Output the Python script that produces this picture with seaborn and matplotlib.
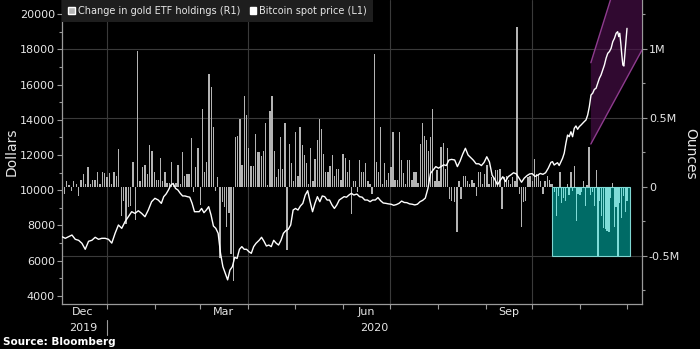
import numpy as np
import pandas as pd
import matplotlib
matplotlib.use("Agg")
import matplotlib.pyplot as plt
import matplotlib.dates as mdates
import matplotlib.transforms as mtransforms
from matplotlib.patches import Rectangle, Polygon, Patch
import seaborn as sns

# ---------------------------------------------------------------------------
# Bitcoin spot price, USD (left axis), read in segments of roughly even spacing
# ---------------------------------------------------------------------------
btc_dec_feb = [7354, 7263, 7354, 7450, 7206, 7150, 6979, 6638, 7093, 7150,
               7320, 7206, 7263, 7263, 7206, 6990, 7547, 8020, 7830, 8210,
               8490, 8775, 8680, 8830, 8680, 8490, 8870, 9344, 9537, 9440]
btc_feb_apr = [9250, 9630, 9780, 10010, 10290, 10380, 10100, 10010, 9820, 9670,
               9670, 9630, 9600, 9250, 8775, 8775, 8775, 8960, 8720, 8870,
               9060, 8585, 7960, 7830, 7547, 6410, 5650, 5270, 4900, 5460,
               5650, 6180, 6120, 6638, 6790, 6638, 6638, 6500, 6410, 6790, 6980]
btc_apr_jun = [7150, 7320, 7093, 6825, 6880, 6790, 7150, 6990, 6880, 7150,
               7547, 7700, 7775, 8020, 8870, 8960, 8870, 9100, 9250, 9725,
               9970, 9344, 8775, 9250, 9630, 9344, 9670, 9630, 9440, 9440,
               9160, 8960, 9160, 9440, 9537, 9630, 9600, 9725, 9820, 9725]
btc_jun_aug = [9780, 9630, 9600, 9440, 9440, 9344, 9440, 9440, 9580, 9400,
               9270, 9250, 9220, 9200, 9140, 9180, 9250, 9380, 9300, 9290,
               9220, 9200, 9160, 9200, 9344, 9420, 9550, 10100, 10960, 11150,
               11340, 11250, 11340, 11440, 11400, 11715, 11750]
btc_aug_oct = [11715, 11340, 11650, 12050, 12380, 12000, 11850, 11700, 11500, 11500,
               11400, 11580, 11900, 11600, 10850, 10620, 10300, 10550, 10765, 10490,
               10765, 10870, 10990, 10930, 10700, 10450, 10680, 10820, 10920, 10940,
               10780, 10850, 10950, 10900, 10990, 11250, 11580]
btc_oct_nov = [11620, 11430, 11500, 11560, 11400, 11600, 11810, 12100, 12665, 13135,
               13040, 13320, 13040, 13517, 13650, 13460, 13610, 13700, 13800, 13900,
               13990, 14270, 14745, 15410, 15510, 15730, 15790, 16075, 16360, 16550,
               16830, 17115, 17500, 17780, 17880, 18065, 18440, 18630, 18920]
btc_late_nov = [19010, 18730, 18920, 18350, 17680, 17115, 17060, 17780, 18540, 19200]

btc_segments = [
    ("2019-12-03", "2020-02-03", btc_dec_feb),
    ("2020-02-05", "2020-04-06", btc_feb_apr),
    ("2020-04-08", "2020-06-08", btc_apr_jun),
    ("2020-06-10", "2020-08-10", btc_jun_aug),
    ("2020-08-12", "2020-10-13", btc_aug_oct),
    ("2020-10-14", "2020-11-24", btc_oct_nov),
    ("2020-11-25", "2020-12-01", btc_late_nov),
]

# ---------------------------------------------------------------------------
# Daily change in gold ETF holdings, million ounces (right axis)
# ---------------------------------------------------------------------------
gold_dec_feb = [-0.21, -0.05, 0.04, 0.01, -0.03, 0.04, 0.02, -0.07, 0.05, 0.09,
                0.02, 0.14, 0.02, 0.05, 0.05, 0.11, 0.02, 0.11, 0.10, 0.07,
                0.10, 0.02, 0.11, 0.08, 0.27, -0.21, -0.10, -0.27, -0.15, -0.14,
                0.18, -0.24, 0.98, 0.04, 0.14, 0.16, 0.09, 0.30, 0.26, 0.11, 0.05]
gold_feb_apr = [0.05, 0.21, 0.04, 0.11, 0.03, 0.03, 0.18, 0.02, 0.03, 0.16,
                0.02, 0.25, 0.08, 0.09, 0.09, 0.35, -0.04, 0.14, 0.28, -0.13,
                0.56, 0.11, 0.18, 0.82, 0.72, 0.43, -0.03, 0.07, -0.52, -0.11,
                -0.15, -0.29, -0.19, -0.49, -0.68, 0.36, 0.37, 0.49, 0.16, 0.66,
                0.52, 0.28, 0.15, 0.15, 0.38, 0.25]
gold_apr_jun = [0.25, 0.22, 0.26, 0.46, 0.01, 0.55, 0.66, 0.26, 0.07, 0.13,
                0.36, 0.13, 0.46, -0.46, 0.31, 0.17, 0.04, 0.40, 0.08, 0.43,
                0.30, 0.23, 0.17, 0.02, 0.28, 0.04, 0.20, 0.34, 0.49, 0.42,
                0.24, 0.11, 0.11, 0.15, 0.23, 0.08, 0.13, 0.13, 0.05, 0.24,
                0.21, 0.11, 0.19, -0.20, 0.04]
gold_jun_aug = [0.04, -0.04, 0.19, 0.11, 0.11, 0.17, 0.04, 0.02, -0.05, 0.96,
                0.18, 0.11, 0.43, 0.02, 0.17, 0.05, 0.10, 0.14, 0.40, 0.05,
                0.05, 0.40, 0.19, 0.10, 0.02, 0.19, 0.19, 0.05, 0.11, 0.11,
                0.03, 0.31, 0.46, 0.37, 0.34, 0.26, 0.36, 0.56, 0.04, 0.12,
                0.04, 0.29, 0.32, 0.13, 0.28, -0.09, -0.10]
gold_aug_oct = [-0.11, -0.33, 0.04, -0.09, 0.08, 0.08, 0.04, 0.02, 0.05, 0.03,
                -0.07, 0.11, 0.11, 0.02, 0.09, 0.16, 0.02, 0.07, 0.07, 0.12,
                0.12, 0.13, -0.16, 0.07, 0.08, 0.05, 0.02, 0.07, 0.04, 1.16,
                -0.05, -0.29, -0.11, -0.10, 0.07, 0.08, 0.04, 0.20, 0.09, 0.09,
                0.04, -0.05, 0.04, 0.08, 0.05]
gold_oct_dec = [0.02, 0.02, -0.04, -0.21, -0.07, 0.11, -0.12, -0.08, -0.10, 0.02,
                -0.06, 0.11, -0.03, 0.15, -0.25, -0.05, -0.06, -0.04, 0.04, -0.14,
                0.01, 0.29, -0.06, -0.04, -0.14, 0.12, -0.50, -0.10, -0.21, -0.30,
                -0.31, -0.32, -0.33, -0.08, 0.03, -0.29, -0.15, -0.50, -0.12, -0.23,
                -0.07, -0.18, -0.10]

gold_segments = [
    ("2019-12-03", "2020-02-02", gold_dec_feb),
    ("2020-02-03", "2020-04-07", gold_feb_apr),
    ("2020-04-08", "2020-06-08", gold_apr_jun),
    ("2020-06-09", "2020-08-10", gold_jun_aug),
    ("2020-08-12", "2020-10-12", gold_aug_oct),
    ("2020-10-13", "2020-12-01", gold_oct_dec),
]

# outflow window highlighted in teal
outflow_start, outflow_end = "2020-10-13 12:00", "2020-12-03"
# rally channel drawn around the Bitcoin line (date, USD)
channel_left, channel_right = "2020-11-07 17:00", "2020-12-10 16:00"
channel_left_low, channel_left_high = 12624, 17246
channel_right_low, channel_right_high = 17968, 26553

x_start, x_end = "2019-12-03", "2020-12-10 16:00"
month_labels = {"2019-12-16": "Dec", "2020-03-16": "Mar", "2020-06-16": "Jun", "2020-09-16": "Sep"}
year_labels = {"2019-12-17": "2019", "2020-06-21": "2020"}

# ---------------------------------------------------------------------------
btc = pd.concat([
    pd.DataFrame({"date": pd.date_range(s, e, periods=len(v)), "price": v})
    for s, e, v in btc_segments
], ignore_index=True)
btc["x"] = mdates.date2num(btc["date"])

gold = pd.concat([
    pd.DataFrame({"date": pd.date_range(s, e, periods=len(v)), "change": v})
    for s, e, v in gold_segments
], ignore_index=True)
gold["x"] = mdates.date2num(gold["date"])
in_window = gold["date"] >= pd.Timestamp(outflow_start)
gold["flow"] = np.where(in_window & (gold["change"] < 0), "outflow", "etf")

BG = "#000000"
TXT = "#e6e6e6"
AXC = "#9a9a9a"
GRID = "#3a3a3a"

sns.set_style("dark", {"axes.facecolor": BG, "figure.facecolor": BG,
                       "axes.edgecolor": AXC, "text.color": TXT,
                       "xtick.color": AXC, "ytick.color": AXC,
                       "axes.labelcolor": TXT})
plt.rcParams["font.family"] = ["DejaVu Sans"]

fig = plt.figure(figsize=(7.0, 3.49), dpi=100, facecolor=BG)
ax = fig.add_axes([62 / 700, 45 / 349, 580 / 700, 304 / 349])
ax2 = ax.twinx()
ax.set_zorder(ax2.get_zorder() + 1)
ax.patch.set_visible(False)
ax2.set_facecolor(BG)

xmin, xmax = mdates.date2num(pd.Timestamp(x_start)), mdates.date2num(pd.Timestamp(x_end))

# grid (right-axis majors and quarterly verticals)
for yv in [-0.5, 0.5, 1.0]:
    ax2.axhline(yv, color=GRID, lw=0.8, zorder=0)
for q in ["2020-01-01", "2020-04-01", "2020-07-01", "2020-10-01"]:
    ax2.axvline(mdates.date2num(pd.Timestamp(q)), color=GRID, lw=0.8, zorder=0)

# teal outflow box
ox0 = mdates.date2num(pd.Timestamp(outflow_start))
ox1 = mdates.date2num(pd.Timestamp(outflow_end))
ax2.add_patch(Rectangle((ox0, -0.5), ox1 - ox0, 0.5, facecolor="#006b66",
                        edgecolor="#7fd6d2", lw=0.8, zorder=0.5))

# gold ETF bars
min_gap = np.min(np.diff(np.unique(gold["x"])))
sns.barplot(data=gold, x="x", y="change", hue="flow", hue_order=["etf", "outflow"],
            palette={"etf": "#b4b4b4", "outflow": "#7fdcd8"}, native_scale=True,
            dodge=False, orient="x", errorbar=None, width=0.85 / min_gap,
            saturation=1, linewidth=0, legend=False, ax=ax2)

# rally channel
cl = mdates.date2num(pd.Timestamp(channel_left))
cr = mdates.date2num(pd.Timestamp(channel_right))
ax.add_patch(Polygon([(cl, channel_left_low), (cl, channel_left_high),
                      (cr, channel_right_high), (cr, channel_right_low)],
                     closed=True, facecolor="#4a0f4a", alpha=0.65,
                     edgecolor="none", zorder=1))
ax.plot([cl, cr], [channel_left_high, channel_right_high], color="#8e3b8e", lw=1.0, zorder=1.5)
ax.plot([cl, cr], [channel_left_low, channel_right_low], color="#8e3b8e", lw=1.0, zorder=1.5)

# bitcoin line
sns.lineplot(data=btc, x="x", y="price", color="white", linewidth=1.0,
             estimator=None, ax=ax, zorder=3)

# axes limits
ax.set_xlim(xmin, xmax)
ax.set_ylim(3528, 20811)
ax2.set_ylim(-0.85, 1.353)

# left axis
ax.set_yticks(np.arange(4000, 20001, 2000))
ax.set_yticks(np.arange(5000, 20001, 2000), minor=True)
ax.set_yticklabels([str(v) for v in range(4000, 20001, 2000)])
ax.tick_params(axis="y", which="major", length=3.5, width=0.8, colors=AXC,
               labelcolor=TXT, labelsize=8, pad=1.5, left=True)
ax.tick_params(axis="y", which="minor", length=2.5, width=0.8, colors=AXC, left=True)

# right axis
ax2.set_yticks([-0.5, 0, 0.5, 1.0])
ax2.set_yticklabels(["-0.5M", "0", "0.5M", "1M"])
ax2.set_yticks([-0.75, -0.25, 0.25, 0.75, 1.25], minor=True)
ax2.tick_params(axis="y", which="major", length=3.5, width=0.8, colors=AXC,
                labelcolor=TXT, labelsize=8, pad=1.5, right=True)
ax2.tick_params(axis="y", which="minor", length=2.5, width=0.8, colors=AXC, right=True)

# bottom axis: month boundaries as ticks, labels centred in months
month_starts = pd.date_range("2020-01-01", "2020-12-01", freq="MS")
ax.set_xticks(mdates.date2num(month_starts))
ax.set_xticklabels([""] * len(month_starts))
ax.set_xticks(mdates.date2num(pd.to_datetime(list(month_labels.keys()))), minor=True)
ax.set_xticklabels(list(month_labels.values()), minor=True)
ax.tick_params(axis="x", which="major", length=3.5, width=0.8, colors=AXC, bottom=True)
ax.tick_params(axis="x", which="minor", length=0, labelcolor=TXT, labelsize=8, pad=2.5,
               bottom=True)
ax2.tick_params(axis="x", which="both", bottom=False, labelbottom=False)

trans = mtransforms.blended_transform_factory(ax.transData, ax.transAxes)
for d, lab in year_labels.items():
    ax.text(mdates.date2num(pd.Timestamp(d)), -0.079, lab, transform=trans,
            ha="center", va="center", fontsize=8, color=TXT)
jan = mdates.date2num(pd.Timestamp("2020-01-01"))
ax.plot([jan, jan], [-0.053, -0.102], transform=trans, color=AXC, lw=0.8, clip_on=False)

# spines
for a in (ax, ax2):
    a.grid(False)
    for s in a.spines.values():
        s.set_visible(False)
ax.spines["left"].set_visible(True)
ax.spines["bottom"].set_visible(True)
ax2.spines["right"].set_visible(True)
for s in (ax.spines["left"], ax.spines["bottom"], ax2.spines["right"]):
    s.set_color(AXC)
    s.set_linewidth(0.9)

ax.set_xlabel("")
ax.set_ylabel("")
ax2.set_xlabel("")
ax2.set_ylabel("")

fig.text(12 / 700, 1 - 152 / 349, "Dollars", rotation=90, ha="center", va="center",
         fontsize=10, color=TXT)
fig.text(690 / 700, 1 - 154 / 349, "Ounces", rotation=270, ha="center", va="center",
         fontsize=10, color=TXT)
fig.text(3 / 700, 1 - 342 / 349, "Source: Bloomberg", ha="left", va="center",
         fontsize=7.5, fontweight="bold", color="white")

# legend
handles = [Patch(facecolor="#b4b4b4", label="Change in gold ETF holdings (R1)"),
           Patch(facecolor="white", label="Bitcoin spot price (L1)")]
leg = ax.legend(handles=handles, loc="upper left", ncol=2, frameon=True,
                facecolor="#1e1e1e", edgecolor="none", framealpha=1, fontsize=7,
                handlelength=0.7, handleheight=0.7, handletextpad=0.3,
                columnspacing=1.0, borderaxespad=0.0, borderpad=0.6,
                labelcolor=TXT)
leg.get_frame().set_boxstyle("square", pad=0)
leg.set_zorder(5)

fig.savefig("out.png", dpi=100, facecolor=BG)
